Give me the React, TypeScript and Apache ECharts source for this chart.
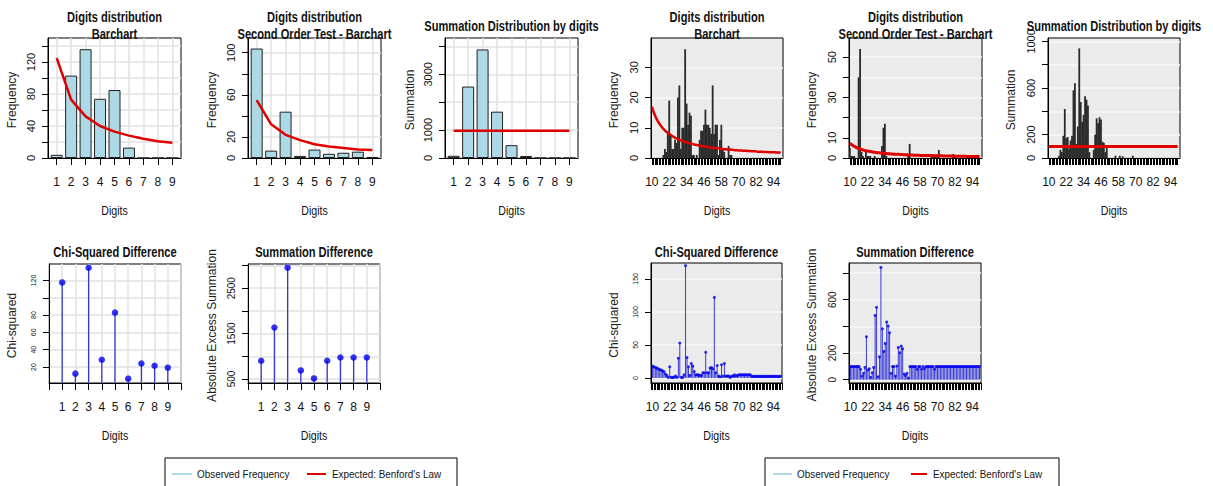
import { useEffect, useRef } from "react";
import * as echarts from "echarts";

const FONT = '"Liberation Sans", Arial, sans-serif';

// ---------- first-digit data ----------
const firstDigits = [1, 2, 3, 4, 5, 6, 7, 8, 9];
const freq1 = [4, 103, 136, 74, 85, 13, 0, 0, 0];
const expected1 = [125, 73, 52, 40, 33, 28, 24, 21, 19];
const freq2nd = [104, 7, 44, 2, 8, 4, 5, 6, 1];
const expected2nd = [55, 32, 22, 17, 13, 11, 9.5, 8, 7.5];
const sum1 = [80, 2560, 3890, 1660, 460, 72, 0, 0, 0];
const sumMean1 = [978, 978, 978, 978, 978, 978, 978, 978, 978];
const chi1 = [117.7, 12.3, 134.6, 28.4, 82.8, 6.5, 24, 21.5, 19.2];
const sumDiff1 = [902, 1634, 2953, 689, 513, 902, 975, 975, 975];

// ---------- first-two-digits data (10..99) ----------
const twoDigits = Array.from({ length: 90 }, (_, i) => i + 10);
const freq12 = [
  0, 0, 0, 0, 0, 0, 0, 0, 1, 3,
  2, 8, 19, 8, 3, 3, 6, 5, 20, 24,
  3, 10, 10, 36, 18, 11, 15, 14, 1, 1,
  0, 1, 0, 6, 9, 9, 11, 16, 11, 11,
  10, 8, 24, 8, 11, 11, 1, 6, 11, 3,
  2, 0, 0, 4, 1, 1, 0, 0, 0, 0,
  0, 0, 0, 0, 0, 0, 0, 0, 0, 0,
  0, 0, 0, 0, 0, 0, 0, 0, 0, 0,
  0, 0, 0, 0, 0, 0, 0, 0, 0, 0,
];
const expected12 = [
  17.0, 15.5, 14.2, 13.2, 12.3, 11.5, 10.8, 10.2, 9.6, 9.1,
  8.7, 8.3, 7.9, 7.6, 7.3, 7.0, 6.7, 6.5, 6.2, 6.0,
  5.8, 5.7, 5.5, 5.3, 5.2, 5.0, 4.9, 4.7, 4.6, 4.5,
  4.4, 4.3, 4.2, 4.1, 4.0, 3.9, 3.8, 3.7, 3.7, 3.6,
  3.5, 3.5, 3.4, 3.3, 3.3, 3.2, 3.2, 3.1, 3.0, 3.0,
  2.9, 2.9, 2.8, 2.8, 2.8, 2.7, 2.7, 2.6, 2.6, 2.6,
  2.5, 2.5, 2.5, 2.4, 2.4, 2.4, 2.3, 2.3, 2.3, 2.2,
  2.2, 2.2, 2.2, 2.1, 2.1, 2.1, 2.1, 2.0, 2.0, 2.0,
  2.0, 1.9, 1.9, 1.9, 1.9, 1.9, 1.8, 1.8, 1.8, 1.8,
];
const freq2nd12 = [
  5, 1, 1, 1, 0, 0, 40, 54, 3, 1,
  0, 3, 1, 1, 1, 0, 0, 1, 0, 0,
  0, 0, 6, 15, 17, 1, 0, 0, 0, 0,
  0, 0, 0, 0, 0, 0, 0, 0, 0, 0,
  1, 7, 0, 0, 0, 0, 0, 0, 0, 0,
  0, 0, 0, 0, 0, 0, 1, 1, 1, 1,
  1, 4, 0, 0, 0, 0, 0, 0, 0, 0,
  0, 2, 1, 0, 0, 0, 0, 0, 0, 0,
  0, 0, 0, 0, 0, 0, 0, 0, 0, 0,
];
const expected2nd12 = [
  7.4, 6.8, 6.2, 5.8, 5.4, 5.0, 4.7, 4.5, 4.2, 4.0,
  3.8, 3.6, 3.5, 3.3, 3.2, 3.1, 2.9, 2.8, 2.7, 2.6,
  2.6, 2.5, 2.4, 2.3, 2.3, 2.2, 2.1, 2.1, 2.0, 2.0,
  1.9, 1.9, 1.8, 1.8, 1.8, 1.7, 1.7, 1.6, 1.6, 1.6,
  1.5, 1.5, 1.5, 1.5, 1.4, 1.4, 1.4, 1.4, 1.3, 1.3,
  1.3, 1.3, 1.2, 1.2, 1.2, 1.2, 1.2, 1.1, 1.1, 1.1,
  1.1, 1.1, 1.1, 1.1, 1.0, 1.0, 1.0, 1.0, 1.0, 1.0,
  1.0, 0.9, 0.9, 0.9, 0.9, 0.9, 0.9, 0.9, 0.9, 0.9,
  0.8, 0.8, 0.8, 0.8, 0.8, 0.8, 0.8, 0.8, 0.8, 0.8,
];
const sum12 = [
  0, 0, 0, 0, 0, 0, 0, 20, 70, 50,
  190, 420, 170, 180, 80, 150, 190, 580, 640, 120,
  270, 940, 480, 310, 370, 530, 500, 450, 50, 0,
  0, 70, 200, 340, 300, 350, 330, 140, 130, 50,
  110, 0, 0, 0, 0, 0, 20, 0, 0, 20,
  0, 15, 0, 0, 0, 0, 0, 0, 20, 0,
  0, 0, 0, 0, 0, 0, 0, 0, 0, 0,
  0, 0, 0, 0, 0, 0, 0, 0, 0, 0,
  0, 0, 0, 0, 0, 0, 0, 0, 0, 0,
];
const sumMean12 = Array.from({ length: 90 }, () => 98);
const chi12 = [
  18, 17, 16, 15, 14, 13, 12, 11, 10, 6,
  4, 1, 17, 1, 1, 1, 3, 1, 30, 53,
  1, 1, 5, 170, 31, 17, 4, 22, 18, 10,
  5, 5, 5, 4, 4, 8, 8, 39, 8, 8,
  15, 16, 14, 122, 8, 19, 3, 2, 20, 3,
  22, 3, 3, 3, 1, 3, 3, 5, 3, 4,
  5, 5, 5, 5, 5, 5, 5, 5, 5, 2.5,
  2.5, 2.5, 2.5, 2.5, 2.5, 2.5, 2.5, 2.5, 2.5, 2.5,
  2.5, 2.5, 2.5, 2.5, 2.5, 2.5, 2.5, 2.5, 2.5, 2.5,
];
const sumDiff12 = [
  98, 98, 98, 98, 98, 98, 98, 78, 28, 48,
  92, 322, 72, 82, 18, 52, 92, 482, 542, 22,
  172, 842, 382, 212, 272, 432, 402, 352, 48, 98,
  98, 28, 102, 242, 202, 252, 232, 42, 32, 48,
  12, 98, 98, 98, 98, 98, 78, 98, 98, 78,
  98, 83, 98, 98, 98, 98, 98, 98, 78, 98,
  98, 98, 98, 98, 98, 98, 98, 98, 98, 98,
  98, 98, 98, 98, 98, 98, 98, 98, 98, 98,
  98, 98, 98, 98, 98, 98, 98, 98, 98, 98,
];

// ---------- tick / label values ----------
const xTicks1 = firstDigits;
const xTicksStem = [0, 1, 2, 3, 4, 5, 6, 7, 8, 9, 10];
const xTicks2 = twoDigits;
const xTicksStem2 = Array.from({ length: 92 }, (_, i) => i + 9);
const xLabels2 = [10, 22, 34, 46, 58, 70, 82, 94];

type Panel = {
  box: [number, number, number, number];
  x: [number, number];
  xTicks: number[];
  xLabels: number[];
  y: [number, number];
  yTicks: number[];
  yLabels: number[];
  yLabelSize: number;
  dense: boolean;
  title: string;
  titleY: number;
  yName: string;
  yNameX: number;
};

const panels: Panel[] = [
  { box: [48, 38, 181, 158], x: [0.4, 9.6], xTicks: xTicks1, xLabels: firstDigits, y: [0, 150], yTicks: [0, 20, 40, 60, 80, 100, 120, 140], yLabels: [0, 40, 80, 120], yLabelSize: 11, dense: false, title: "Digits distribution\nBarchart", titleY: 25, yName: "Frequency", yNameX: 12 },
  { box: [248, 38, 381, 158], x: [0.4, 9.6], xTicks: xTicks1, xLabels: firstDigits, y: [0, 114], yTicks: [0, 20, 40, 60, 80, 100], yLabels: [0, 20, 60, 100], yLabelSize: 11, dense: false, title: "Digits distribution\nSecond Order Test - Barchart", titleY: 25, yName: "Frequency", yNameX: 212 },
  { box: [445, 38, 578, 158], x: [0.4, 9.6], xTicks: xTicks1, xLabels: firstDigits, y: [0, 4300], yTicks: [0, 1000, 2000, 3000, 4000], yLabels: [0, 1000, 3000], yLabelSize: 11, dense: false, title: "Summation Distribution by digits", titleY: 25, yName: "Summation", yNameX: 410 },
  { box: [49, 264, 181, 383], x: [0, 10], xTicks: xTicksStem, xLabels: firstDigits, y: [1.5, 139], yTicks: [20, 40, 60, 80, 100, 120], yLabels: [20, 40, 60, 80, 120], yLabelSize: 7, dense: false, title: "Chi-Squared Difference", titleY: 251, yName: "Chi-squared", yNameX: 12 },
  { box: [248, 264, 380, 383], x: [0, 10], xTicks: xTicksStem, xLabels: firstDigits, y: [412, 3034], yTicks: [500, 1000, 1500, 2000, 2500, 3000], yLabels: [500, 1500, 2500], yLabelSize: 10, dense: false, title: "Summation Difference", titleY: 251, yName: "Absolute Excess Summation", yNameX: 212 },
  { box: [651, 38, 783, 158], x: [9.4, 100.6], xTicks: xTicks2, xLabels: xLabels2, y: [0, 39.7], yTicks: [0, 10, 20, 30], yLabels: [0, 10, 20, 30], yLabelSize: 11, dense: true, title: "Digits distribution\nBarchart", titleY: 25, yName: "Frequency", yNameX: 614 },
  { box: [849, 38, 982, 158], x: [9.4, 100.6], xTicks: xTicks2, xLabels: xLabels2, y: [0, 59.5], yTicks: [0, 10, 20, 30, 40, 50], yLabels: [0, 10, 30, 50], yLabelSize: 11, dense: true, title: "Digits distribution\nSecond Order Test - Barchart", titleY: 25, yName: "Frequency", yNameX: 812 },
  { box: [1048, 38, 1180, 158], x: [9.4, 100.6], xTicks: xTicks2, xLabels: xLabels2, y: [0, 1029], yTicks: [0, 200, 400, 600, 800, 1000], yLabels: [0, 200, 600, 1000], yLabelSize: 11, dense: true, title: "Summation Distribution by digits", titleY: 25, yName: "Summation", yNameX: 1011 },
  { box: [651, 263, 782, 383], x: [9, 100], xTicks: xTicksStem2, xLabels: xLabels2, y: [-7.5, 174], yTicks: [0, 50, 100, 150], yLabels: [0, 50, 100, 150], yLabelSize: 7, dense: true, title: "Chi-Squared Difference", titleY: 251, yName: "Chi-squared", yNameX: 614 },
  { box: [849, 263, 981, 383], x: [9, 100], xTicks: xTicksStem2, xLabels: xLabels2, y: [-25, 875], yTicks: [0, 200, 400, 600, 800], yLabels: [0, 200, 600], yLabelSize: 10, dense: true, title: "Summation Difference", titleY: 251, yName: "Absolute Excess Summation", yNameX: 812 },
];

const pairs = (xs: number[], ys: number[]) => xs.map((x, i) => [x, ys[i]]);

export default function App() {
  const ref = useRef<HTMLDivElement>(null);
  useEffect(() => {
    if (!ref.current) return;
    const chart = echarts.init(ref.current, null, { renderer: "svg" });

    const grids: any[] = [];
    const xAxes: any[] = [];
    const yAxes: any[] = [];
    const graphics: any[] = [];

    panels.forEach((p, i) => {
      const [l, t, r, b] = p.box;
      grids.push({
        left: l, top: t, width: r - l, height: b - t,
        show: true, borderColor: "#000", borderWidth: 1,
        backgroundColor: p.dense ? "#ebebeb" : "#fff",
        containLabel: false,
      });
      xAxes.push({
        gridIndex: i, type: "value", min: p.x[0], max: p.x[1],
        axisLine: { show: true, onZero: false, lineStyle: { color: "#000", width: 1 } },
        axisTick: { show: true, length: 7, customValues: p.xTicks, lineStyle: { color: "#000", width: 1 } },
        axisLabel: { customValues: p.xLabels, margin: 18, fontSize: 12, color: "#111", fontFamily: FONT, formatter: (v: number) => String(v) },
        splitLine: { show: !p.dense, lineStyle: { color: "#e2e2e2", width: 1.5 } },
      });
      yAxes.push({
        gridIndex: i, type: "value", min: p.y[0], max: p.y[1],
        axisLine: { show: true, onZero: false, lineStyle: { color: "#000", width: 1 } },
        axisTick: { show: true, length: 6, customValues: p.yTicks, lineStyle: { color: "#000", width: 1 } },
        axisLabel: { customValues: p.yLabels, rotate: 90, margin: 12, fontSize: p.yLabelSize, color: "#111", fontFamily: FONT, formatter: (v: number) => String(v) },
        splitLine: { show: true, lineStyle: { color: p.dense ? "#f7f7f7" : "#e2e2e2", width: 1.5 } },
      });
      const cx = (l + r) / 2;
      graphics.push({
        type: "text", x: cx, y: p.titleY + 0.5, z: 10, scaleX: 0.74,
        style: { text: p.title, font: `bold 15px ${FONT}`, fill: "#111", align: "center", verticalAlign: "middle", textAlign: "center", textVerticalAlign: "middle", lineHeight: 17 },
      });
      graphics.push({
        type: "text", x: cx, y: i < 3 || (i >= 5 && i < 8) ? 210 : 435, z: 10, scaleX: 0.85,
        style: { text: "Digits", font: `12.5px ${FONT}`, fill: "#111", align: "center", verticalAlign: "middle", textAlign: "center", textVerticalAlign: "middle" },
      });
      graphics.push({
        type: "text", x: p.yNameX, y: (t + b) / 2 + 2, rotation: Math.PI / 2, z: 10,
        style: { text: p.yName, font: `12px ${FONT}`, fill: "#222", align: "center", verticalAlign: "middle", textAlign: "center", textVerticalAlign: "middle" },
      });
    });

    const barStyle = { color: "#add8e6", borderColor: "#222", borderWidth: 1 };
    const redLine = { color: "#e00000", width: 2.5 };
    const stemColor = "#3a3acc";
    const series: any[] = [
      { type: "bar", xAxisIndex: 0, yAxisIndex: 0, data: pairs(firstDigits, freq1), barWidth: 12, itemStyle: barStyle },
      { type: "line", xAxisIndex: 0, yAxisIndex: 0, data: pairs(firstDigits, expected1), symbol: "none", lineStyle: redLine, z: 5 },
      { type: "bar", xAxisIndex: 1, yAxisIndex: 1, data: pairs(firstDigits, freq2nd), barWidth: 12, itemStyle: barStyle },
      { type: "line", xAxisIndex: 1, yAxisIndex: 1, data: pairs(firstDigits, expected2nd), symbol: "none", lineStyle: redLine, z: 5 },
      { type: "bar", xAxisIndex: 2, yAxisIndex: 2, data: pairs(firstDigits, sum1), barWidth: 12, itemStyle: barStyle },
      { type: "line", xAxisIndex: 2, yAxisIndex: 2, data: pairs(firstDigits, sumMean1), symbol: "none", lineStyle: redLine, z: 5 },
      { type: "bar", xAxisIndex: 3, yAxisIndex: 3, data: pairs(firstDigits, chi1), barWidth: 1.3, itemStyle: { color: stemColor } },
      { type: "scatter", xAxisIndex: 3, yAxisIndex: 3, data: pairs(firstDigits, chi1), symbolSize: 6.5, itemStyle: { color: "#0000ee" }, z: 5 },
      { type: "bar", xAxisIndex: 4, yAxisIndex: 4, data: pairs(firstDigits, sumDiff1), barWidth: 1.3, itemStyle: { color: stemColor } },
      { type: "scatter", xAxisIndex: 4, yAxisIndex: 4, data: pairs(firstDigits, sumDiff1), symbolSize: 6.5, itemStyle: { color: "#0000ee" }, z: 5 },
      { type: "bar", xAxisIndex: 5, yAxisIndex: 5, data: pairs(twoDigits, freq12), barWidth: 1.8, itemStyle: { color: "#2a2a2a" } },
      { type: "line", xAxisIndex: 5, yAxisIndex: 5, data: pairs(twoDigits, expected12), symbol: "none", lineStyle: redLine, z: 5 },
      { type: "bar", xAxisIndex: 6, yAxisIndex: 6, data: pairs(twoDigits, freq2nd12), barWidth: 1.8, itemStyle: { color: "#2a2a2a" } },
      { type: "line", xAxisIndex: 6, yAxisIndex: 6, data: pairs(twoDigits, expected2nd12), symbol: "none", lineStyle: { color: "#e00000", width: 3 }, z: 5 },
      { type: "bar", xAxisIndex: 7, yAxisIndex: 7, data: pairs(twoDigits, sum12), barWidth: 1.8, itemStyle: { color: "#2a2a2a" } },
      { type: "line", xAxisIndex: 7, yAxisIndex: 7, data: pairs(twoDigits, sumMean12), symbol: "none", lineStyle: { color: "#e00000", width: 3 }, z: 5 },
      { type: "bar", xAxisIndex: 8, yAxisIndex: 8, data: pairs(twoDigits, chi12), barWidth: 1, itemStyle: { color: "#3a3ad8" } },
      { type: "scatter", xAxisIndex: 8, yAxisIndex: 8, data: pairs(twoDigits, chi12), symbolSize: 3, itemStyle: { color: "#0000ee" }, z: 5 },
      { type: "bar", xAxisIndex: 9, yAxisIndex: 9, data: pairs(twoDigits, sumDiff12), barWidth: 1, itemStyle: { color: "#3a3ad8" } },
      { type: "scatter", xAxisIndex: 9, yAxisIndex: 9, data: pairs(twoDigits, sumDiff12), symbolSize: 3, itemStyle: { color: "#0000ee" }, z: 5 },
    ];

    // legends
    const legends = [
      { x: 165, w: 292, blue: [172, 192], t1: 197, red: [307, 326], t2: 332 },
      { x: 765, w: 294, blue: [773, 792], t1: 797, red: [911, 927], t2: 933 },
    ];
    legends.forEach((lg) => {
      graphics.push({ type: "rect", shape: { x: lg.x, y: 458, width: lg.w, height: 40 }, style: { fill: "#fff", stroke: "#000", lineWidth: 1 }, z: 9 });
      graphics.push({ type: "line", shape: { x1: lg.blue[0], y1: 474, x2: lg.blue[1], y2: 474 }, style: { stroke: "#add8e6", lineWidth: 2 }, z: 10 });
      graphics.push({ type: "text", x: lg.t1, y: 474, z: 10, scaleX: 0.9, style: { text: "Observed Frequency", font: `11px ${FONT}`, fill: "#111", align: "left", verticalAlign: "middle", textVerticalAlign: "middle" } });
      graphics.push({ type: "line", shape: { x1: lg.red[0], y1: 474, x2: lg.red[1], y2: 474 }, style: { stroke: "#e00000", lineWidth: 2 }, z: 10 });
      graphics.push({ type: "text", x: lg.t2, y: 474, z: 10, scaleX: 0.9, style: { text: "Expected: Benford's Law", font: `11px ${FONT}`, fill: "#111", align: "left", verticalAlign: "middle", textVerticalAlign: "middle" } });
    });

    chart.setOption({
      animation: false,
      backgroundColor: "#fff",
      grid: grids,
      xAxis: xAxes,
      yAxis: yAxes,
      series,
      graphic: graphics,
    });
    return () => chart.dispose();
  }, []);
  return <div ref={ref} style={{ position: "fixed", left: 0, top: 0, width: 1213, height: 486 }} />;
}
